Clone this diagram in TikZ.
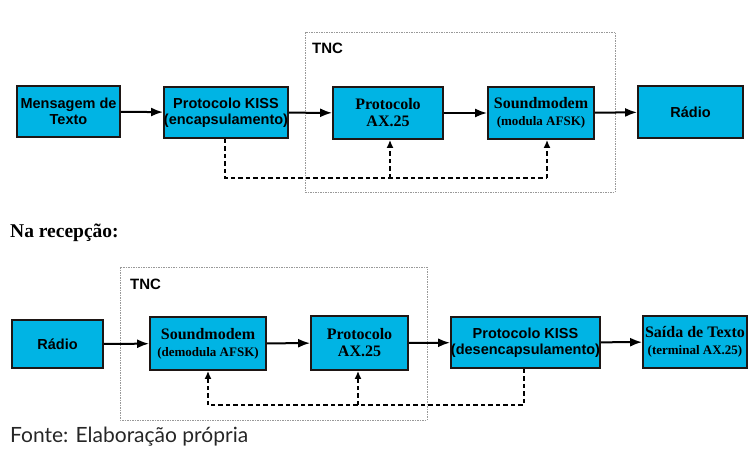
\documentclass[tikz,border=0pt]{standalone}
\usepackage{fontspec}
\setmainfont{Liberation Serif}
\setsansfont{Liberation Sans}
\newfontfamily\fontelato{Lato}
\usetikzlibrary{arrows.meta}

\definecolor{azulbloco}{RGB}{0,180,228}
\definecolor{bordabloco}{RGB}{30,22,20}

\tikzset{
  bloco/.style={draw=bordabloco, line width=1.8pt, rectangle, fill=azulbloco, text centered, align=center, inner sep=0pt},
  sansb/.style={font=\sffamily\bfseries\fontsize{14.5}{16.5}\selectfont},
  serifb/.style={font=\rmfamily\bfseries\fontsize{16}{17}\selectfont},
  tnc/.style={draw=gray!80, line width=1pt, dash pattern=on 1.5pt off 1pt},
  seta/.style={line width=2pt, -{Latex[length=12pt,width=9pt]}},
  retorno/.style={line width=2.4pt, dash pattern=on 4.5pt off 3pt, -{Latex[length=8pt,width=7pt]}}
}

\begin{document}
\begin{tikzpicture}[x=1pt, y=-1pt]

\useasboundingbox (0,0) rectangle (749,450);

\draw[tnc] (305,32) rectangle (615,192);
\node (tncA) [anchor=west, font=\sffamily\bfseries\fontsize{15}{16}\selectfont, inner sep=0pt] at (312,48) {TNC};

\node (msg) [bloco, sansb, minimum width=103pt, minimum height=51pt] at (68.5,111.5) {Mensagem de\\Texto};
\node (kissA) [bloco, sansb, minimum width=122pt, minimum height=51pt] at (226,112.5) {Protocolo KISS\\(encapsulamento)};
\node (axA) [bloco, serifb, minimum width=110pt, minimum height=52pt] at (388,113) {Protocolo\\AX.25};
\node (smA) [bloco, serifb, minimum width=106pt, minimum height=52pt] at (541,113) {Soundmodem\\{\fontsize{13}{14}\selectfont(modula AFSK)}};
\node (radA) [bloco, sansb, minimum width=105pt, minimum height=52pt] at (690.5,112) {Rádio};

\draw[seta] (msg) -- (kissA);
\draw[seta] (kissA) -- (axA);
\draw[seta] (axA) -- (smA);
\draw[seta] (smA) -- (radA);

\coordinate (cantoA1) at (225,178);
\coordinate (cantoA2) at (547,178);
\coordinate (ramoA) at (390,178);
\draw[retorno, -] (kissA.south -| cantoA1) -- (cantoA1) -- (cantoA2);
\draw[retorno] (cantoA2) -- (cantoA2 |- smA.south);
\draw[retorno] (ramoA) -- (ramoA |- axA.south);

\node (recep) [anchor=west, font=\rmfamily\bfseries\fontsize{19.5}{21}\selectfont, inner sep=0pt] at (10,233) {Na recepção:};

\draw[tnc] (120,267) rectangle (427,420);
\node (tncB) [anchor=west, font=\sffamily\bfseries\fontsize{15}{16}\selectfont, inner sep=0pt] at (130,284) {TNC};

\node (radB) [bloco, sansb, minimum width=91pt, minimum height=48pt] at (57.5,344) {Rádio};
\node (smB) [bloco, serifb, minimum width=116pt, minimum height=53pt] at (208,343.5) {Soundmodem\\{\fontsize{13}{14}\selectfont(demodula AFSK)}};
\node (axB) [bloco, serifb, minimum width=97pt, minimum height=54pt] at (359.5,343) {Protocolo\\AX.25};
\node (kissB) [bloco, sansb, minimum width=145pt, minimum height=51pt] at (525.5,342.5) {Protocolo KISS\\(desencapsulamento)};
\node (saida) [bloco, serifb, minimum width=104pt, minimum height=52pt] at (695,342) {Saída de Texto\\{\fontsize{13}{14}\selectfont(terminal AX.25)}};

\draw[seta] (radB) -- (smB);
\draw[seta] (smB) -- (axB);
\draw[seta] (axB) -- (kissB);
\draw[seta] (kissB) -- (saida);

\coordinate (cantoB1) at (524,405);
\coordinate (cantoB2) at (208,405);
\coordinate (ramoB) at (358,405);
\draw[retorno, -] (kissB.south -| cantoB1) -- (cantoB1) -- (cantoB2);
\draw[retorno] (cantoB2) -- (cantoB2 |- smB.south);
\draw[retorno] (ramoB) -- (ramoB |- axB.south);

\node (fonte) [anchor=west, font=\fontelato\fontsize{21}{23}\selectfont, text=black!85, inner sep=0pt] at (10,437) {Fonte: Elaboração própria};

\end{tikzpicture}
\end{document}
